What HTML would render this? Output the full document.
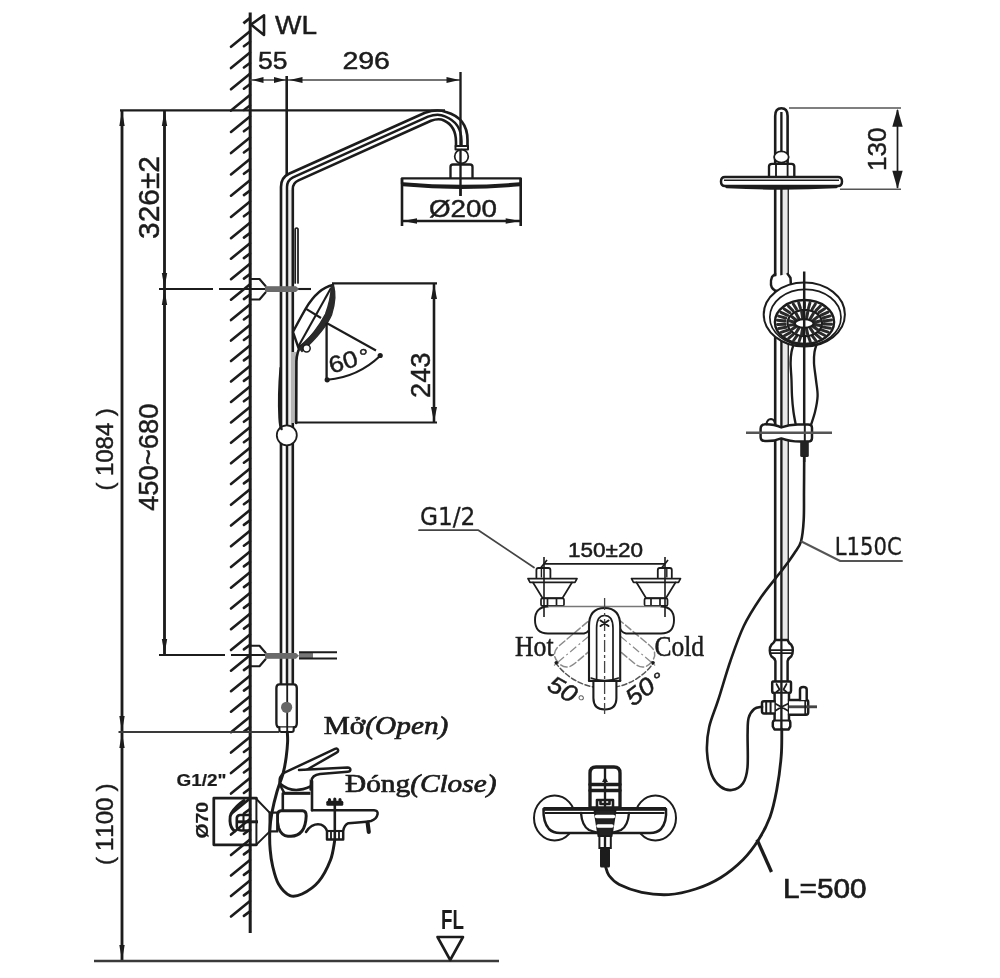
<!DOCTYPE html>
<html lang="vi"><head><meta charset="utf-8"><title>Shower column dimensions</title>
<style>
html,body{margin:0;padding:0;background:#fff;}
body{width:1000px;height:978px;overflow:hidden;}
svg{display:block;filter:blur(0.45px);}
</style></head><body>
<svg width="1000" height="978" viewBox="0 0 1000 978">
<rect width="1000" height="978" fill="#ffffff"/>
<g id="wall">
<line x1="250.2" y1="12.6" x2="250.2" y2="933.0" stroke="#1c1c1c" stroke-width="3.04" />
<line x1="231.0" y1="46.8" x2="250.0" y2="31.3" stroke="#1c1c1c" stroke-width="2.6" stroke-linecap="round"/>
<line x1="243.9" y1="46.2" x2="250.0" y2="41.7" stroke="#1c1c1c" stroke-width="2.6" stroke-linecap="round"/>
<line x1="231.0" y1="68.1" x2="250.0" y2="52.6" stroke="#1c1c1c" stroke-width="2.6" stroke-linecap="round"/>
<line x1="243.9" y1="67.5" x2="250.0" y2="63.0" stroke="#1c1c1c" stroke-width="2.6" stroke-linecap="round"/>
<line x1="231.0" y1="89.3" x2="250.0" y2="73.8" stroke="#1c1c1c" stroke-width="2.6" stroke-linecap="round"/>
<line x1="243.9" y1="88.7" x2="250.0" y2="84.2" stroke="#1c1c1c" stroke-width="2.6" stroke-linecap="round"/>
<line x1="231.0" y1="110.6" x2="250.0" y2="95.1" stroke="#1c1c1c" stroke-width="2.6" stroke-linecap="round"/>
<line x1="243.9" y1="110.0" x2="250.0" y2="105.5" stroke="#1c1c1c" stroke-width="2.6" stroke-linecap="round"/>
<line x1="231.0" y1="131.9" x2="250.0" y2="116.4" stroke="#1c1c1c" stroke-width="2.6" stroke-linecap="round"/>
<line x1="243.9" y1="131.3" x2="250.0" y2="126.8" stroke="#1c1c1c" stroke-width="2.6" stroke-linecap="round"/>
<line x1="231.0" y1="153.1" x2="250.0" y2="137.6" stroke="#1c1c1c" stroke-width="2.6" stroke-linecap="round"/>
<line x1="243.9" y1="152.5" x2="250.0" y2="148.0" stroke="#1c1c1c" stroke-width="2.6" stroke-linecap="round"/>
<line x1="231.0" y1="174.4" x2="250.0" y2="158.9" stroke="#1c1c1c" stroke-width="2.6" stroke-linecap="round"/>
<line x1="243.9" y1="173.8" x2="250.0" y2="169.3" stroke="#1c1c1c" stroke-width="2.6" stroke-linecap="round"/>
<line x1="231.0" y1="195.7" x2="250.0" y2="180.2" stroke="#1c1c1c" stroke-width="2.6" stroke-linecap="round"/>
<line x1="243.9" y1="195.1" x2="250.0" y2="190.6" stroke="#1c1c1c" stroke-width="2.6" stroke-linecap="round"/>
<line x1="231.0" y1="216.9" x2="250.0" y2="201.4" stroke="#1c1c1c" stroke-width="2.6" stroke-linecap="round"/>
<line x1="243.9" y1="216.3" x2="250.0" y2="211.8" stroke="#1c1c1c" stroke-width="2.6" stroke-linecap="round"/>
<line x1="231.0" y1="238.2" x2="250.0" y2="222.7" stroke="#1c1c1c" stroke-width="2.6" stroke-linecap="round"/>
<line x1="243.9" y1="237.6" x2="250.0" y2="233.1" stroke="#1c1c1c" stroke-width="2.6" stroke-linecap="round"/>
<line x1="231.0" y1="258.7" x2="250.0" y2="243.2" stroke="#1c1c1c" stroke-width="2.6" stroke-linecap="round"/>
<line x1="243.9" y1="258.1" x2="250.0" y2="253.6" stroke="#1c1c1c" stroke-width="2.6" stroke-linecap="round"/>
<line x1="231.0" y1="279.2" x2="250.0" y2="263.7" stroke="#1c1c1c" stroke-width="2.6" stroke-linecap="round"/>
<line x1="243.9" y1="278.6" x2="250.0" y2="274.1" stroke="#1c1c1c" stroke-width="2.6" stroke-linecap="round"/>
<line x1="231.0" y1="299.7" x2="250.0" y2="284.2" stroke="#1c1c1c" stroke-width="2.6" stroke-linecap="round"/>
<line x1="243.9" y1="299.1" x2="250.0" y2="294.6" stroke="#1c1c1c" stroke-width="2.6" stroke-linecap="round"/>
<line x1="231.0" y1="320.1" x2="250.0" y2="304.6" stroke="#1c1c1c" stroke-width="2.6" stroke-linecap="round"/>
<line x1="243.9" y1="319.5" x2="250.0" y2="315.0" stroke="#1c1c1c" stroke-width="2.6" stroke-linecap="round"/>
<line x1="231.0" y1="340.6" x2="250.0" y2="325.1" stroke="#1c1c1c" stroke-width="2.6" stroke-linecap="round"/>
<line x1="243.9" y1="340.0" x2="250.0" y2="335.5" stroke="#1c1c1c" stroke-width="2.6" stroke-linecap="round"/>
<line x1="231.0" y1="361.0" x2="250.0" y2="345.5" stroke="#1c1c1c" stroke-width="2.6" stroke-linecap="round"/>
<line x1="243.9" y1="360.4" x2="250.0" y2="355.9" stroke="#1c1c1c" stroke-width="2.6" stroke-linecap="round"/>
<line x1="231.0" y1="381.5" x2="250.0" y2="366.0" stroke="#1c1c1c" stroke-width="2.6" stroke-linecap="round"/>
<line x1="243.9" y1="380.9" x2="250.0" y2="376.4" stroke="#1c1c1c" stroke-width="2.6" stroke-linecap="round"/>
<line x1="231.0" y1="401.9" x2="250.0" y2="386.4" stroke="#1c1c1c" stroke-width="2.6" stroke-linecap="round"/>
<line x1="243.9" y1="401.3" x2="250.0" y2="396.8" stroke="#1c1c1c" stroke-width="2.6" stroke-linecap="round"/>
<line x1="231.0" y1="422.4" x2="250.0" y2="406.9" stroke="#1c1c1c" stroke-width="2.6" stroke-linecap="round"/>
<line x1="243.9" y1="421.8" x2="250.0" y2="417.3" stroke="#1c1c1c" stroke-width="2.6" stroke-linecap="round"/>
<line x1="231.0" y1="442.8" x2="250.0" y2="427.3" stroke="#1c1c1c" stroke-width="2.6" stroke-linecap="round"/>
<line x1="243.9" y1="442.2" x2="250.0" y2="437.7" stroke="#1c1c1c" stroke-width="2.6" stroke-linecap="round"/>
<line x1="231.0" y1="463.3" x2="250.0" y2="447.8" stroke="#1c1c1c" stroke-width="2.6" stroke-linecap="round"/>
<line x1="243.9" y1="462.7" x2="250.0" y2="458.2" stroke="#1c1c1c" stroke-width="2.6" stroke-linecap="round"/>
<line x1="231.0" y1="484.0" x2="250.0" y2="468.5" stroke="#1c1c1c" stroke-width="2.6" stroke-linecap="round"/>
<line x1="243.9" y1="483.4" x2="250.0" y2="478.9" stroke="#1c1c1c" stroke-width="2.6" stroke-linecap="round"/>
<line x1="231.0" y1="504.8" x2="250.0" y2="489.3" stroke="#1c1c1c" stroke-width="2.6" stroke-linecap="round"/>
<line x1="243.9" y1="504.2" x2="250.0" y2="499.7" stroke="#1c1c1c" stroke-width="2.6" stroke-linecap="round"/>
<line x1="231.0" y1="525.5" x2="250.0" y2="510.0" stroke="#1c1c1c" stroke-width="2.6" stroke-linecap="round"/>
<line x1="243.9" y1="524.9" x2="250.0" y2="520.4" stroke="#1c1c1c" stroke-width="2.6" stroke-linecap="round"/>
<line x1="231.0" y1="546.3" x2="250.0" y2="530.8" stroke="#1c1c1c" stroke-width="2.6" stroke-linecap="round"/>
<line x1="243.9" y1="545.7" x2="250.0" y2="541.2" stroke="#1c1c1c" stroke-width="2.6" stroke-linecap="round"/>
<line x1="231.0" y1="567.0" x2="250.0" y2="551.5" stroke="#1c1c1c" stroke-width="2.6" stroke-linecap="round"/>
<line x1="243.9" y1="566.4" x2="250.0" y2="561.9" stroke="#1c1c1c" stroke-width="2.6" stroke-linecap="round"/>
<line x1="231.0" y1="587.7" x2="250.0" y2="572.2" stroke="#1c1c1c" stroke-width="2.6" stroke-linecap="round"/>
<line x1="243.9" y1="587.1" x2="250.0" y2="582.6" stroke="#1c1c1c" stroke-width="2.6" stroke-linecap="round"/>
<line x1="231.0" y1="608.5" x2="250.0" y2="593.0" stroke="#1c1c1c" stroke-width="2.6" stroke-linecap="round"/>
<line x1="243.9" y1="607.9" x2="250.0" y2="603.4" stroke="#1c1c1c" stroke-width="2.6" stroke-linecap="round"/>
<line x1="231.0" y1="629.2" x2="250.0" y2="613.7" stroke="#1c1c1c" stroke-width="2.6" stroke-linecap="round"/>
<line x1="243.9" y1="628.6" x2="250.0" y2="624.1" stroke="#1c1c1c" stroke-width="2.6" stroke-linecap="round"/>
<line x1="231.0" y1="650.0" x2="250.0" y2="634.5" stroke="#1c1c1c" stroke-width="2.6" stroke-linecap="round"/>
<line x1="243.9" y1="649.4" x2="250.0" y2="644.9" stroke="#1c1c1c" stroke-width="2.6" stroke-linecap="round"/>
<line x1="231.0" y1="670.7" x2="250.0" y2="655.2" stroke="#1c1c1c" stroke-width="2.6" stroke-linecap="round"/>
<line x1="243.9" y1="670.1" x2="250.0" y2="665.6" stroke="#1c1c1c" stroke-width="2.6" stroke-linecap="round"/>
<line x1="231.0" y1="691.2" x2="250.0" y2="675.7" stroke="#1c1c1c" stroke-width="2.6" stroke-linecap="round"/>
<line x1="243.9" y1="690.6" x2="250.0" y2="686.1" stroke="#1c1c1c" stroke-width="2.6" stroke-linecap="round"/>
<line x1="231.0" y1="711.7" x2="250.0" y2="696.2" stroke="#1c1c1c" stroke-width="2.6" stroke-linecap="round"/>
<line x1="243.9" y1="711.1" x2="250.0" y2="706.6" stroke="#1c1c1c" stroke-width="2.6" stroke-linecap="round"/>
<line x1="231.0" y1="732.2" x2="250.0" y2="716.7" stroke="#1c1c1c" stroke-width="2.6" stroke-linecap="round"/>
<line x1="243.9" y1="731.6" x2="250.0" y2="727.1" stroke="#1c1c1c" stroke-width="2.6" stroke-linecap="round"/>
<line x1="231.0" y1="752.6" x2="250.0" y2="737.1" stroke="#1c1c1c" stroke-width="2.6" stroke-linecap="round"/>
<line x1="243.9" y1="752.0" x2="250.0" y2="747.5" stroke="#1c1c1c" stroke-width="2.6" stroke-linecap="round"/>
<line x1="231.0" y1="773.1" x2="250.0" y2="757.6" stroke="#1c1c1c" stroke-width="2.6" stroke-linecap="round"/>
<line x1="243.9" y1="772.5" x2="250.0" y2="768.0" stroke="#1c1c1c" stroke-width="2.6" stroke-linecap="round"/>
<line x1="231.0" y1="793.6" x2="250.0" y2="778.1" stroke="#1c1c1c" stroke-width="2.6" stroke-linecap="round"/>
<line x1="243.9" y1="793.0" x2="250.0" y2="788.5" stroke="#1c1c1c" stroke-width="2.6" stroke-linecap="round"/>
<line x1="231.0" y1="814.1" x2="250.0" y2="798.6" stroke="#1c1c1c" stroke-width="2.6" stroke-linecap="round"/>
<line x1="243.9" y1="813.5" x2="250.0" y2="809.0" stroke="#1c1c1c" stroke-width="2.6" stroke-linecap="round"/>
<line x1="231.0" y1="834.6" x2="250.0" y2="819.1" stroke="#1c1c1c" stroke-width="2.6" stroke-linecap="round"/>
<line x1="243.9" y1="834.0" x2="250.0" y2="829.5" stroke="#1c1c1c" stroke-width="2.6" stroke-linecap="round"/>
<line x1="231.0" y1="855.0" x2="250.0" y2="839.5" stroke="#1c1c1c" stroke-width="2.6" stroke-linecap="round"/>
<line x1="243.9" y1="854.4" x2="250.0" y2="849.9" stroke="#1c1c1c" stroke-width="2.6" stroke-linecap="round"/>
<line x1="231.0" y1="875.5" x2="250.0" y2="860.0" stroke="#1c1c1c" stroke-width="2.6" stroke-linecap="round"/>
<line x1="243.9" y1="874.9" x2="250.0" y2="870.4" stroke="#1c1c1c" stroke-width="2.6" stroke-linecap="round"/>
<line x1="231.0" y1="896.0" x2="250.0" y2="880.5" stroke="#1c1c1c" stroke-width="2.6" stroke-linecap="round"/>
<line x1="243.9" y1="895.4" x2="250.0" y2="890.9" stroke="#1c1c1c" stroke-width="2.6" stroke-linecap="round"/>
<line x1="231.0" y1="916.5" x2="250.0" y2="901.0" stroke="#1c1c1c" stroke-width="2.6" stroke-linecap="round"/>
<line x1="243.9" y1="915.9" x2="250.0" y2="911.4" stroke="#1c1c1c" stroke-width="2.6" stroke-linecap="round"/>
<line x1="243.4" y1="23.4" x2="250.0" y2="18.0" stroke="#1c1c1c" stroke-width="2.85" />
</g>
<g id="wl">
<path d="M251,24.5 L264,15.3 L264,35 Z" stroke="#1c1c1c" stroke-width="2.6" fill="none" stroke-linecap="round" stroke-linejoin="round" />
<text x="275.0" y="34.2" font-family='"Liberation Sans", Arial, Helvetica, sans-serif' font-size="26" font-weight="normal" font-style="normal" fill="#1c1c1c" stroke="#1c1c1c" stroke-width="0.45" style="font-kerning:none" textLength="42.0" lengthAdjust="spacingAndGlyphs" >WL</text>
</g>
<g id="dims-top">
<text x="258.0" y="69.3" font-family='"Liberation Sans", Arial, Helvetica, sans-serif' font-size="24" font-weight="normal" font-style="normal" fill="#1c1c1c" stroke="#1c1c1c" stroke-width="0.45" style="font-kerning:none" textLength="29.5" lengthAdjust="spacingAndGlyphs" >55</text>
<text x="342.4" y="69.3" font-family='"Liberation Sans", Arial, Helvetica, sans-serif' font-size="24" font-weight="normal" font-style="normal" fill="#1c1c1c" stroke="#1c1c1c" stroke-width="0.45" style="font-kerning:none" textLength="47.6" lengthAdjust="spacingAndGlyphs" >296</text>
<line x1="250.0" y1="80.0" x2="460.5" y2="80.0" stroke="#444" stroke-width="1.73" />
<polygon points="252.0,80.0 263.5,77.1 263.5,82.9" fill="#1c1c1c"/>
<polygon points="285.5,80.0 274.0,82.9 274.0,77.1" fill="#1c1c1c"/>
<polygon points="289.5,80.0 302.5,77.0 302.5,83.0" fill="#1c1c1c"/>
<polygon points="459.5,80.0 446.5,83.0 446.5,77.0" fill="#1c1c1c"/>
<line x1="286.7" y1="76.0" x2="286.7" y2="176.0" stroke="#1c1c1c" stroke-width="2.6" />
<line x1="460.5" y1="72.0" x2="460.5" y2="196.0" stroke="#1c1c1c" stroke-width="2.35" />
</g>
<g id="dims-left">
<line x1="120.0" y1="110.3" x2="445.0" y2="110.3" stroke="#1c1c1c" stroke-width="2.23" />
<line x1="122.0" y1="111.0" x2="122.0" y2="961.0" stroke="#1c1c1c" stroke-width="2.85" />
<line x1="164.5" y1="111.0" x2="164.5" y2="655.0" stroke="#1c1c1c" stroke-width="2.85" />
<polygon points="122.0,111.0 124.7,126.0 119.3,126.0" fill="#1c1c1c"/>
<polygon points="122.0,731.0 119.3,716.0 124.7,716.0" fill="#1c1c1c"/>
<polygon points="122.0,733.0 124.7,748.0 119.3,748.0" fill="#1c1c1c"/>
<polygon points="122.0,960.0 119.3,945.0 124.7,945.0" fill="#1c1c1c"/>
<polygon points="164.5,111.0 167.2,126.0 161.8,126.0" fill="#1c1c1c"/>
<polygon points="164.5,288.0 161.8,273.0 167.2,273.0" fill="#1c1c1c"/>
<polygon points="164.5,290.0 167.2,305.0 161.8,305.0" fill="#1c1c1c"/>
<polygon points="164.5,654.0 161.8,639.0 167.2,639.0" fill="#1c1c1c"/>
<line x1="159.0" y1="289.0" x2="213.0" y2="289.0" stroke="#1c1c1c" stroke-width="2.1" />
<line x1="219.0" y1="289.0" x2="266.0" y2="289.0" stroke="#1c1c1c" stroke-width="2.1" />
<line x1="296.0" y1="289.0" x2="311.0" y2="289.0" stroke="#1c1c1c" stroke-width="2.1" />
<line x1="159.0" y1="655.0" x2="225.0" y2="655.0" stroke="#1c1c1c" stroke-width="2.1" />
<line x1="231.0" y1="655.0" x2="266.0" y2="655.0" stroke="#1c1c1c" stroke-width="2.1" />
<line x1="118.5" y1="732.0" x2="279.0" y2="732.0" stroke="#3a3a3a" stroke-width="2.1" />
<line x1="94.0" y1="961.0" x2="499.0" y2="961.0" stroke="#3a3a3a" stroke-width="2.29" />
<text x="158.7" y="239.0" font-family='"Liberation Sans", Arial, Helvetica, sans-serif' font-size="29" font-weight="normal" font-style="normal" fill="#1c1c1c" stroke="#1c1c1c" stroke-width="0.45" style="font-kerning:none" textLength="83.0" lengthAdjust="spacingAndGlyphs" transform="rotate(-90 158.7 239.0)" >326±2</text>
<text x="157.7" y="511.0" font-family='"Liberation Sans", Arial, Helvetica, sans-serif' font-size="27" font-weight="normal" font-style="normal" fill="#1c1c1c" stroke="#1c1c1c" stroke-width="0.45" style="font-kerning:none" textLength="107.4" lengthAdjust="spacingAndGlyphs" transform="rotate(-90 157.7 511.0)" >450~680</text>
<text x="112.7" y="490.6" font-family='"Liberation Sans", Arial, Helvetica, sans-serif' font-size="24" font-weight="normal" font-style="normal" fill="#1c1c1c" stroke="#1c1c1c" stroke-width="0.45" style="font-kerning:none" transform="rotate(-90 112.7 490.6)" >(<tspan dx="6.5">1084</tspan><tspan dx="6.5">)</tspan></text>
<text x="112.7" y="865.0" font-family='"Liberation Sans", Arial, Helvetica, sans-serif' font-size="24" font-weight="normal" font-style="normal" fill="#1c1c1c" stroke="#1c1c1c" stroke-width="0.45" style="font-kerning:none" transform="rotate(-90 112.7 865.0)" >(<tspan dx="6">1100</tspan><tspan dx="6">)</tspan></text>
</g>
<g id="fl">
<path d="M437.5,937 L463,937 L450.2,960 Z" stroke="#1c1c1c" stroke-width="2.6" fill="none" stroke-linecap="round" stroke-linejoin="round" />
<text x="441" y="929" font-family='"Liberation Sans", Arial, sans-serif' font-size="28" font-weight="bold" fill="#1c1c1c" textLength="23" lengthAdjust="spacingAndGlyphs">FL</text>
</g>
<g id="riser">
<rect x="287" y="190" width="5.8" height="494" fill="#e9e9e9"/>
<path d="M281,684 L281,187 Q281,177.5 289,173.8 L425,112.8 Q437,108.6 446,112 Q467.5,118 467.5,140 L467.5,146" stroke="#1c1c1c" stroke-width="2.66" fill="none" stroke-linecap="round" stroke-linejoin="round" />
<path d="M287,684 L287,187 Q287,180.5 293,177.4 L428,116.6 Q438,113 445,116.4 Q461.5,123 461.5,141 L461.5,146" stroke="#1c1c1c" stroke-width="2.48" fill="none" stroke-linecap="round" stroke-linejoin="round" />
<path d="M292.8,684 L292.8,189 Q292.8,183 298.5,180.4 L431,120.8 Q439,117.8 444,120.5 Q456,126 456,142 L456,146" stroke="#1c1c1c" stroke-width="2.6" fill="none" stroke-linecap="round" stroke-linejoin="round" />
<path d="M455.5,146 H468 V149.5 H455.5 Z" stroke="#1c1c1c" stroke-width="1.98" fill="#fff" stroke-linecap="round" stroke-linejoin="round" />
<circle cx="461.5" cy="156.5" r="6.8" fill="#fff" stroke="#1c1c1c" stroke-width="1.7"/>
<path d="M450.5,178 V167 Q450.5,164.5 453,164.5 H470 Q472.5,164.5 472.5,167 V178" stroke="#1c1c1c" stroke-width="2.35" fill="#fff" stroke-linecap="round" stroke-linejoin="round" />
<path d="M402,178.3 H520.7 V184 Q461,190 402,184 Z" stroke="#1c1c1c" stroke-width="2.35" fill="#fff" stroke-linecap="round" stroke-linejoin="round" />
<path d="M403,184.3 Q461,189.5 520,184.3" stroke="#1c1c1c" stroke-width="4.1" fill="none" stroke-linecap="round" stroke-linejoin="round" />
<line x1="460.5" y1="150.0" x2="460.5" y2="196.0" stroke="#1c1c1c" stroke-width="2.35" />
<line x1="402.0" y1="178.0" x2="402.0" y2="226.0" stroke="#1c1c1c" stroke-width="2.6" />
<line x1="520.7" y1="178.0" x2="520.7" y2="226.0" stroke="#1c1c1c" stroke-width="2.6" />
<line x1="402.0" y1="221.0" x2="520.7" y2="221.0" stroke="#1c1c1c" stroke-width="2.35" />
<polygon points="403.0,221.0 417.0,218.2 417.0,223.8" fill="#1c1c1c"/>
<polygon points="519.7,221.0 505.7,223.8 505.7,218.2" fill="#1c1c1c"/>
<text x="429.0" y="216.8" font-family='"Liberation Sans", Arial, Helvetica, sans-serif' font-size="24" font-weight="normal" font-style="normal" fill="#1c1c1c" stroke="#1c1c1c" stroke-width="0.45" style="font-kerning:none" textLength="68.0" lengthAdjust="spacingAndGlyphs" >Ø200</text>
<circle cx="286.8" cy="435.3" r="10" fill="#fff" stroke="#1c1c1c" stroke-width="1.8"/>
<path d="M295.2,283 V229 Q296.6,227 298,229 V283" stroke="#1c1c1c" stroke-width="1.73" fill="none" stroke-linecap="round" stroke-linejoin="round" />
</g>
<g>
<path d="M250,279 H259.5 L265.5,286 M250,299.5 H259.5 L265.5,292.5" stroke="#1c1c1c" stroke-width="2.1" fill="none" stroke-linecap="round" stroke-linejoin="round" />
<rect x="265" y="286.2" width="31" height="5.8" fill="#6a6a6a"/>
<polygon points="296,286.2 299,289 296,292" fill="#6a6a6a"/>
</g>
<g>
<path d="M250,645.8 H259.5 L265.5,652.8 M250,666.3 H259.5 L265.5,659.3" stroke="#1c1c1c" stroke-width="2.1" fill="none" stroke-linecap="round" stroke-linejoin="round" />
<rect x="265" y="653.0" width="31" height="5.8" fill="#6a6a6a"/>
<polygon points="296,653.0 299,655.8 296,658.8" fill="#6a6a6a"/>
</g>
<rect x="299" y="652.6" width="14" height="5.6" fill="#777"/>
<line x1="299.0" y1="652.3" x2="337.0" y2="652.3" stroke="#1c1c1c" stroke-width="1.98" />
<line x1="299.0" y1="658.6" x2="337.0" y2="658.6" stroke="#1c1c1c" stroke-width="1.98" />
<g id="riser-bottom">
<path d="M279.5,684.4 H293.6 Q296.8,684.4 296.8,688 V723 Q296.8,727.4 293.6,727.4 H279.5 Q276.4,727.4 276.4,723 V688 Q276.4,684.4 279.5,684.4 Z" stroke="#1c1c1c" stroke-width="2.35" fill="#fff" stroke-linecap="round" stroke-linejoin="round" />
<path d="M279.4,727.4 V730 Q279.4,732 281.4,732 H291.7 Q293.7,732 293.7,730 V727.4" stroke="#1c1c1c" stroke-width="2.1" fill="#fff" stroke-linecap="round" stroke-linejoin="round" />
<line x1="287.2" y1="684.4" x2="287.2" y2="732.0" stroke="#1c1c1c" stroke-width="1.85" />
<circle cx="286.6" cy="707.3" r="5.6" fill="#666"/>
</g>
<g id="handshower-side">
<rect x="291" y="352" width="5.5" height="71" fill="#b5b5b5"/>
<path d="M299,349 Q296,356 296.4,366 L296.2,423" stroke="#1c1c1c" stroke-width="2.6" fill="none" stroke-linecap="round" stroke-linejoin="round" />
<path d="M280.7,368 Q278.4,395 279.6,418 Q280,426 281.5,429" stroke="#1c1c1c" stroke-width="2.6" fill="none" stroke-linecap="round" stroke-linejoin="round" />
<path d="M333,285 Q318,288 305.7,308.6 Q297,324 293,332 L298.5,348 Q325,326 331,304 Q334.5,291 333,285 Z" stroke="#1c1c1c" stroke-width="2.35" fill="#fff" stroke-linecap="round" stroke-linejoin="round" />
<line x1="331.0" y1="288.0" x2="298.6" y2="346.0" stroke="#1c1c1c" stroke-width="2.1" />
<path d="M333,285 Q337.5,296 331.5,315 Q324.5,331 302,351.5 L299.5,348.5 Q316,332 325.5,314 Q331,299 331.2,287 Z" stroke="#2a2a2a" stroke-width="1.35" fill="#2a2a2a" stroke-linecap="round" stroke-linejoin="round" />
<line x1="305.7" y1="308.6" x2="321.0" y2="318.0" stroke="#1c1c1c" stroke-width="2.1" />
<circle cx="306.6" cy="348.3" r="3.6" fill="#fff" stroke="#1c1c1c" stroke-width="1.5"/>
<line x1="332.0" y1="283.3" x2="437.0" y2="283.3" stroke="#1c1c1c" stroke-width="2.23" />
<line x1="295.0" y1="422.5" x2="437.0" y2="422.5" stroke="#1c1c1c" stroke-width="2.23" />
<line x1="434.0" y1="283.5" x2="434.0" y2="422.5" stroke="#1c1c1c" stroke-width="2.6" />
<polygon points="434.0,284.0 437.0,299.0 431.0,299.0" fill="#1c1c1c"/>
<polygon points="434.0,422.0 431.0,407.0 437.0,407.0" fill="#1c1c1c"/>
<text x="429.6" y="398.0" font-family='"Liberation Sans", Arial, Helvetica, sans-serif' font-size="27" font-weight="normal" font-style="normal" fill="#1c1c1c" stroke="#1c1c1c" stroke-width="0.45" style="font-kerning:none" textLength="45.5" lengthAdjust="spacingAndGlyphs" transform="rotate(-90 429.6 398.0)" >243</text>
<line x1="326.6" y1="323.0" x2="326.6" y2="379.0" stroke="#1c1c1c" stroke-width="2.35" />
<line x1="326.6" y1="323.0" x2="376.0" y2="350.5" stroke="#1c1c1c" stroke-width="2.1" />
<path d="M327.5,379.8 Q358,377 380,356" stroke="#1c1c1c" stroke-width="2.1" fill="none" stroke-linecap="round" stroke-linejoin="round" />
<circle cx="327.2" cy="379.8" r="2.6" fill="#1c1c1c"/><circle cx="380.2" cy="355.5" r="2.6" fill="#1c1c1c"/>
<text x="331.5" y="373.8" font-family='"Liberation Sans", Arial, Helvetica, sans-serif' font-size="23.5" font-weight="normal" font-style="normal" fill="#1c1c1c" stroke="#1c1c1c" stroke-width="0.45" style="font-kerning:none" textLength="41.5" lengthAdjust="spacingAndGlyphs" transform="rotate(-17 331.5 373.8)" >60<tspan dx="2.5" font-size="21">°</tspan></text>
</g>
<g id="faucet-side">
<path d="M256.4,798.2 H213.8 V844.8 H256.4" stroke="#1c1c1c" stroke-width="2.73" fill="none" stroke-linecap="round" stroke-linejoin="round" />
<text x="207.6" y="838.6" font-family='"Liberation Sans", Arial, Helvetica, sans-serif' font-size="17" font-weight="bold" font-style="normal" fill="#1c1c1c" stroke="#1c1c1c" stroke-width="0.2" style="font-kerning:none" textLength="36.8" lengthAdjust="spacingAndGlyphs" transform="rotate(-90 207.6 838.6)" >Ø70</text>
<text x="176.6" y="785.6" font-family='"Liberation Sans", Arial, Helvetica, sans-serif' font-size="16.8" font-weight="bold" font-style="normal" fill="#1c1c1c" stroke="#1c1c1c" stroke-width="0.2" style="font-kerning:none" textLength="50.0" lengthAdjust="spacingAndGlyphs" >G1/2"</text>
<line x1="256.4" y1="798.0" x2="256.4" y2="845.0" stroke="#1c1c1c" stroke-width="1.98" />
<path d="M256.4,799 L269.6,812.6 M256.4,844.6 L269.6,831.6" stroke="#1c1c1c" stroke-width="1.98" fill="none" stroke-linecap="round" stroke-linejoin="round" />
<path d="M244,800.5 Q236,806 231.5,813 Q229.6,816 230,821 Q230.4,828 234.5,831" stroke="#1c1c1c" stroke-width="2.98" fill="none" stroke-linecap="round" stroke-linejoin="round" />
<path d="M250,815 H240 Q236.5,815.5 236.8,819 V826.5 Q237,830 241,830.5 H250" stroke="#1c1c1c" stroke-width="2.6" fill="none" stroke-linecap="round" stroke-linejoin="round" />
<line x1="238.0" y1="821.8" x2="258.0" y2="821.8" stroke="#1c1c1c" stroke-width="2.98" />
<path d="M243.5,815.5 V830" stroke="#1c1c1c" stroke-width="2.1" fill="none" stroke-linecap="round" stroke-linejoin="round" />
<path d="M312,810.2 H374 Q378.2,810.6 377.6,814 Q376.8,819 371,821 Q362,822.6 348.4,823.2 Q344.2,825 343.2,831 V839.5 H327 V831 Q325.5,826.5 321,824.6 Q316.5,823.4 312,825.8 Q308.5,828 306,832" stroke="#1c1c1c" stroke-width="2.48" fill="#fff" stroke-linecap="round" stroke-linejoin="round" />
<path d="M281,810.8 H302.5 Q306.3,811 306.2,816 Q305.8,826 302,831 Q298,836.2 291,836.2 H288 Q281.5,835.8 278.6,828 Q277,822 277.5,815 Q277.8,811 281,810.8 Z" stroke="#1c1c1c" stroke-width="2.98" fill="#fff" stroke-linecap="round" stroke-linejoin="round" />
<rect x="269.6" y="812.6" width="7.6" height="18.8" fill="#fff" stroke="#1c1c1c" stroke-width="2.2"/>
<path d="M367.6,822.8 L368.8,832" stroke="#1c1c1c" stroke-width="4.1" fill="none" stroke-linecap="round" stroke-linejoin="round" />
<path d="M282.8,810.5 V793.5 M312,810.2 V781" stroke="#1c1c1c" stroke-width="2.6" fill="none" stroke-linecap="round" stroke-linejoin="round" />
<line x1="282.8" y1="793.3" x2="310.5" y2="793.3" stroke="#1c1c1c" stroke-width="3.1" />
<path d="M283.4,773.2 Q279,777 279.6,782 Q281,788 284,792.5 M310,771 Q311.5,776 310.6,789.5" stroke="#1c1c1c" stroke-width="2.48" fill="none" stroke-linecap="round" stroke-linejoin="round" />
<path d="M280.5,784 Q293,794.5 310.4,786.5" stroke="#1c1c1c" stroke-width="2.6" fill="none" stroke-linecap="round" stroke-linejoin="round" />
<path d="M283.4,773.2 L335,748.9 Q337.4,748 338,749.8 Q338.6,751.6 336.6,752.6 L305.5,770.5" stroke="#1c1c1c" stroke-width="2.48" fill="#fff" stroke-linecap="round" stroke-linejoin="round" />
<path d="M299,770 L347.5,767.6 Q350.6,767.8 350.4,769.8 Q350.2,771.6 347.5,771.8 L320,774 Q312,775 311.4,781" stroke="#1c1c1c" stroke-width="2.48" fill="#fff" stroke-linecap="round" stroke-linejoin="round" />
<line x1="334.8" y1="803.0" x2="334.8" y2="839.0" stroke="#1c1c1c" stroke-width="2.6" />
<rect x="326.3" y="800.8" width="17" height="5" rx="1.5" fill="#1c1c1c"/>
<path d="M329.5,799.5 V802 M334.8,799 V802 M340,799.5 V802" stroke="#1c1c1c" stroke-width="3.1" fill="none" stroke-linecap="round" stroke-linejoin="round" />
<line x1="327.0" y1="831.0" x2="343.2" y2="831.0" stroke="#1c1c1c" stroke-width="2.1" />
<path d="M331,831.5 V839 M339,831.5 V839" stroke="#1c1c1c" stroke-width="1.85" fill="none" stroke-linecap="round" stroke-linejoin="round" />
<path d="M287.3,732.0 C287.4,733.7 287.8,737.8 287.6,742.0 C287.4,746.2 286.9,751.8 286.2,757.0 C285.5,762.2 284.8,767.2 283.2,773.0 C281.6,778.8 278.8,785.4 276.9,792.0 C275.0,798.6 273.1,806.3 271.9,812.8 C270.7,819.3 270.1,824.8 269.8,831.0 C269.5,837.2 269.7,844.2 270.2,850.0 C270.7,855.8 271.2,860.3 272.6,866.0 C274.0,871.7 275.6,879.1 278.5,884.0 C281.4,888.9 286.1,893.9 290.0,895.6 C293.9,897.3 297.2,896.3 302.0,894.0 C306.8,891.7 313.9,887.3 318.6,881.6 C323.4,875.9 327.8,866.9 330.5,860.0 C333.2,853.1 334.1,843.3 334.8,840.0" stroke="#1c1c1c" stroke-width="2.98" fill="none" stroke-linecap="round" stroke-linejoin="round" />
</g>
<text x="323.8" y="734" font-family='"Liberation Serif", "Times New Roman", serif' font-size="25.5" fill="#1c1c1c" stroke="#1c1c1c" stroke-width="0.7" textLength="124.5" lengthAdjust="spacingAndGlyphs">Mở<tspan font-style="italic">(Open)</tspan></text>
<text x="345" y="792.3" font-family='"Liberation Serif", "Times New Roman", serif' font-size="25.5" fill="#1c1c1c" stroke="#1c1c1c" stroke-width="0.7" textLength="151.5" lengthAdjust="spacingAndGlyphs">Đóng<tspan font-style="italic">(Close)</tspan></text>
<g id="front-riser">
<path d="M775.2,641 V116 Q775.2,108.3 781.4,108.3 Q787.6,108.3 787.6,116 V641" stroke="#1c1c1c" stroke-width="2.6" fill="#fff" stroke-linecap="round" stroke-linejoin="round" />
<rect x="781.4" y="188" width="6.2" height="452" fill="#e9e9e9"/>
<line x1="781.4" y1="112.0" x2="781.4" y2="641.0" stroke="#1c1c1c" stroke-width="2.35" />
<ellipse cx="781.4" cy="157" rx="7.3" ry="5.6" fill="#fff" stroke="#1c1c1c" stroke-width="1.8"/>
<path d="M769,177 V166.5 Q769,163.8 772,163.8 H791.5 Q794.3,163.8 794.3,166.5 V177" stroke="#1c1c1c" stroke-width="2.35" fill="#fff" stroke-linecap="round" stroke-linejoin="round" />
<line x1="776.0" y1="164.0" x2="776.0" y2="177.0" stroke="#1c1c1c" stroke-width="1.85" />
<line x1="787.6" y1="164.0" x2="787.6" y2="177.0" stroke="#1c1c1c" stroke-width="1.85" />
<path d="M725,177 H838 Q842,177 842,181.5 Q842,186 838,186 H725 Q721,186 721,181.5 Q721,177 725,177 Z" stroke="#1c1c1c" stroke-width="2.48" fill="#fff" stroke-linecap="round" stroke-linejoin="round" />
<path d="M727,186.6 Q781,189.5 836,186.6" stroke="#1c1c1c" stroke-width="3.35" fill="none" stroke-linecap="round" stroke-linejoin="round" />
<line x1="724.0" y1="180.3" x2="839.0" y2="180.3" stroke="#1c1c1c" stroke-width="1.48" />
<line x1="789.0" y1="108.0" x2="901.0" y2="108.0" stroke="#555" stroke-width="1.6" />
<line x1="840.0" y1="189.3" x2="901.0" y2="189.3" stroke="#555" stroke-width="1.6" />
<line x1="897.5" y1="110.0" x2="897.5" y2="188.0" stroke="#1c1c1c" stroke-width="1.73" />
<polygon points="897.5,108.8 902.7,126.8 892.3,126.8" fill="#1c1c1c"/>
<polygon points="897.5,188.8 892.3,170.8 902.7,170.8" fill="#1c1c1c"/>
<text x="886.3" y="171.0" font-family='"Liberation Sans", Arial, Helvetica, sans-serif' font-size="25" font-weight="normal" font-style="normal" fill="#1c1c1c" stroke="#1c1c1c" stroke-width="0.45" style="font-kerning:none" textLength="43.5" lengthAdjust="spacingAndGlyphs" transform="rotate(-90 886.3 171.0)" >130</text>
<path d="M775.2,640 Q774,643 771.5,644.6 Q769.8,646.5 769.8,650.5 Q769.8,654.5 771.5,656.4 Q774.5,658 775.4,661 V682 H787.6 V661 Q788.5,658 791.2,656.4 Q792.8,654.5 792.8,650.5 Q792.8,646.5 791.2,644.6 Q788.6,643 787.6,640 Z" stroke="#1c1c1c" stroke-width="2.48" fill="#fff" stroke-linecap="round" stroke-linejoin="round" />
<line x1="781.4" y1="640.0" x2="781.4" y2="682.0" stroke="#1c1c1c" stroke-width="2.23" />
<path d="M771,650.2 H792 M771,653.2 H792" stroke="#1c1c1c" stroke-width="1.73" fill="none" stroke-linecap="round" stroke-linejoin="round" />
<path d="M773,681.5 H790 Q791,681.5 791,683 V691 Q791,692.6 789,693.4 V720 Q790.3,721 790.3,722.5 V726.5 L788.5,729.5 H774.5 L772.8,726.5 V722.5 Q772.8,721 774.6,720 V693.4 Q772.2,692.6 772.2,691 V683 Q772.2,681.5 773,681.5 Z" stroke="#1c1c1c" stroke-width="2.48" fill="#fff" stroke-linecap="round" stroke-linejoin="round" />
<path d="M772.5,692.8 H790.5 M774,720.6 H789.5" stroke="#1c1c1c" stroke-width="1.98" fill="none" stroke-linecap="round" stroke-linejoin="round" />
<line x1="781.4" y1="682.0" x2="781.4" y2="729.0" stroke="#1c1c1c" stroke-width="2.35" />
<path d="M776.5,684 L779.5,689.5 L776.5,692 M786.5,684 L783.5,689.5 L786.5,692" stroke="#1c1c1c" stroke-width="1.73" fill="none" stroke-linecap="round" stroke-linejoin="round" />
<path d="M775,703.5 L781.4,707 L775,711 M788.5,703.5 L781.4,707 L788.5,711" stroke="#1c1c1c" stroke-width="1.85" fill="none" stroke-linecap="round" stroke-linejoin="round" />
<path d="M774.4,701.2 H764 Q762,701.2 762,703 V711.5 Q762,713.4 764,713.4 H774.4" stroke="#1c1c1c" stroke-width="2.48" fill="#fff" stroke-linecap="round" stroke-linejoin="round" />
<path d="M766.2,701.5 V713.2 M770.6,701.5 V713.2" stroke="#1c1c1c" stroke-width="1.98" fill="none" stroke-linecap="round" stroke-linejoin="round" />
<path d="M789,700 H806 Q808.2,700 808.2,702 V712.6 Q808.2,714.7 806,714.7 H789" stroke="#1c1c1c" stroke-width="2.48" fill="#fff" stroke-linecap="round" stroke-linejoin="round" />
<path d="M800,700 V689.5 Q800,687 803.3,687 Q806.7,687 806.7,689.5 V700" stroke="#1c1c1c" stroke-width="2.48" fill="#fff" stroke-linecap="round" stroke-linejoin="round" />
<line x1="789.0" y1="706.8" x2="817.0" y2="706.8" stroke="#444" stroke-width="2.85" />
<line x1="805.2" y1="700.5" x2="805.2" y2="714.5" stroke="#1c1c1c" stroke-width="1.73" />
</g>
<g id="handshower-front">
<path d="M772,277 Q770.5,280 771,285 Q772,290 777,291 H790 Q791.5,284 790.5,278 Q789,275.5 787.6,274 M775.2,274 Q773,275.5 772,277" stroke="#1c1c1c" stroke-width="2.48" fill="#fff" stroke-linecap="round" stroke-linejoin="round" />
<path d="M794.0,343.0 C793.6,344.5 792.1,348.7 791.5,352.0 C790.9,355.3 790.6,358.3 790.6,363.0 C790.6,367.7 791.3,374.5 791.5,380.0 C791.7,385.5 791.7,390.7 792.0,396.0 C792.3,401.3 792.8,407.0 793.5,412.0 C794.2,417.0 795.6,423.7 796.0,426.0 L810.6,426 L810.6,426.0 C811.3,423.7 813.8,417.0 815.0,412.0 C816.2,407.0 817.4,401.3 817.6,396.0 C817.8,390.7 816.6,385.5 816.0,380.0 C815.4,374.5 814.2,367.7 814.0,363.0 C813.8,358.3 814.0,355.3 814.5,352.0 C815.0,348.7 816.6,344.5 817.0,343.0 Z" stroke="#1c1c1c" stroke-width="2.35" fill="#fff" stroke-linecap="round" stroke-linejoin="round" />
<ellipse cx="804.3" cy="314.5" rx="40.6" ry="32" fill="#fff" stroke="#1c1c1c" stroke-width="2"/>
<ellipse cx="805.4" cy="317.3" rx="35.6" ry="28" fill="none" stroke="#1c1c1c" stroke-width="1.7"/>
<ellipse cx="804.5" cy="322" rx="29.6" ry="22" fill="#fff" stroke="#1c1c1c" stroke-width="2.4"/>
<path d="M823.9,324.1 L831.6,324.2 M823.1,327.1 L830.4,328.3 M821.4,329.9 L828.1,332.1 M819.1,332.5 L824.8,335.5 M816.0,334.5 L820.6,338.3 M812.5,336.1 L815.7,340.4 M808.6,337.1 L810.3,341.7 M804.6,337.4 L804.6,342.2 M800.5,337.1 L799.0,341.8 M796.7,336.1 L793.6,340.5 M793.1,334.6 L788.6,338.4 M790.1,332.6 L784.4,335.7 M787.7,330.1 L781.0,332.3 M786.0,327.2 L778.7,328.5 M785.1,324.2 L777.5,324.4 M785.1,321.1 L777.4,320.2 M785.9,318.1 L778.6,316.1 M787.6,315.3 L780.9,312.3 M789.9,312.7 L784.2,308.9 M793.0,310.7 L788.4,306.1 M796.5,309.1 L793.3,304.0 M800.4,308.1 L798.7,302.7 M804.4,307.8 L804.4,302.2 M808.5,308.1 L810.0,302.6 M812.3,309.1 L815.4,303.9 M815.9,310.6 L820.4,306.0 M818.9,312.6 L824.6,308.7 M821.3,315.1 L828.0,312.1 M823.0,318.0 L830.3,315.9 M823.9,321.0 L831.5,320.0" stroke="#2a2a2a" stroke-width="2.98" fill="none" stroke-linecap="round" stroke-linejoin="round" stroke-linecap="butt"/>
<ellipse cx="804.8" cy="323" rx="17.2" ry="13.2" fill="#fff" stroke="#1c1c1c" stroke-width="2.2"/>
<path d="M814.9,324.6 L820.0,325.4 M813.3,326.8 L817.6,329.6 M810.4,328.4 L813.3,332.8 M806.6,329.3 L807.7,334.5 M802.5,329.3 L801.6,334.5 M798.7,328.4 L796.0,332.7 M795.8,326.7 L791.7,329.5 M794.3,324.5 L789.4,325.3 M794.3,322.2 L789.4,320.8 M795.9,320.0 L791.8,316.6 M798.8,318.4 L796.1,313.4 M802.6,317.5 L801.7,311.7 M806.7,317.5 L807.8,311.7 M810.5,318.4 L813.4,313.5 M813.4,320.1 L817.7,316.7 M814.9,322.3 L820.0,320.9" stroke="#2a2a2a" stroke-width="3.1" fill="none" stroke-linecap="round" stroke-linejoin="round" stroke-linecap="butt"/>
<ellipse cx="804.2" cy="323.5" rx="9.4" ry="4.4" fill="#fff" stroke="#1c1c1c" stroke-width="2.2"/>
<line x1="804.2" y1="271.5" x2="804.2" y2="462.0" stroke="#1c1c1c" stroke-width="2.48" />
<path d="M765,424.2 Q760.6,424.6 760.6,429 V437 Q760.6,441 765,441 Q774,441.4 781.3,438.4 Q790,441.6 800,441.6 H808 Q812,441.6 812,438 V428 Q812,424.6 808,424.6 H800 Q790,424.2 781.3,427.4 Q774,424 765,424.2 Z" stroke="#1c1c1c" stroke-width="2.48" fill="#fff" stroke-linecap="round" stroke-linejoin="round" />
<path d="M766.4,424.3 Q767,419.3 771,419 Q774.6,419.3 775.2,424" stroke="#1c1c1c" stroke-width="2.1" fill="none" stroke-linecap="round" stroke-linejoin="round" />
<path d="M804.8,425 V441.4" stroke="#1c1c1c" stroke-width="1.98" fill="none" stroke-linecap="round" stroke-linejoin="round" />
<line x1="746.0" y1="432.8" x2="832.0" y2="432.8" stroke="#555" stroke-width="2.48" />
<rect x="800.2" y="441" width="8.6" height="16" rx="1.5" fill="#222"/>
</g>
<g id="hoses">
<path d="M804.2,457.0 C804.2,462.5 804.1,479.5 804.0,490.0 C803.9,500.5 804.2,511.4 803.7,520.0 C803.2,528.6 802.5,536.0 801.0,541.5 C799.5,547.0 796.8,549.4 794.5,553.0 C792.2,556.6 789.9,559.7 787.5,563.0 C785.1,566.3 784.5,567.0 780.0,572.8 C775.5,578.6 766.5,589.1 760.5,598.0 C754.5,606.9 748.8,615.5 743.8,626.0 C738.8,636.5 734.8,648.4 730.5,660.7 C726.2,673.0 721.8,689.0 718.2,700.0 C714.7,711.0 711.1,718.4 709.2,727.0 C707.3,735.6 706.6,743.8 707.0,751.7 C707.4,759.6 709.2,768.4 711.5,774.2 C713.8,780.0 717.1,784.0 720.5,786.6 C723.9,789.2 728.0,790.6 731.7,790.0 C735.5,789.4 740.4,787.0 743.0,783.2 C745.6,779.5 746.7,775.8 747.5,767.5 C748.3,759.2 747.4,742.0 747.6,733.7 C747.8,725.5 747.5,722.1 748.6,718.0 C749.7,713.9 752.0,710.9 754.2,709.0 C756.4,707.1 760.7,707.2 762.0,706.8" stroke="#1c1c1c" stroke-width="2.6" fill="none" stroke-linecap="round" stroke-linejoin="round" />
<path d="M781.8,729.2 C781.7,733.7 782.1,746.1 781.2,756.2 C780.4,766.3 778.6,779.9 776.7,790.0 C774.8,800.1 773.0,808.8 770.0,817.0 C767.0,825.2 763.2,832.4 758.7,839.5 C754.2,846.6 749.4,853.3 743.0,859.7 C736.6,866.1 728.4,872.8 720.5,877.7 C712.6,882.6 704.3,886.2 695.7,889.0 C687.1,891.8 677.7,894.1 668.7,894.6 C659.7,895.1 650.0,894.0 641.7,892.3 C633.5,890.6 624.7,887.3 619.2,884.5 C613.8,881.7 611.2,878.4 609.0,875.5 C606.8,872.6 606.2,868.4 605.7,867.0" stroke="#1c1c1c" stroke-width="2.85" fill="none" stroke-linecap="round" stroke-linejoin="round" />
<path d="M801.5,541.5 L840.2,561 H902" stroke="#555" stroke-width="1.98" fill="none" stroke-linecap="round" stroke-linejoin="round" />
<text x="834.8" y="554.8" font-family='"DejaVu Sans", "Liberation Sans", sans-serif' font-size="24" font-weight="normal" font-style="normal" fill="#1c1c1c" stroke="#1c1c1c" stroke-width="0.3" style="font-kerning:none" textLength="67.0" lengthAdjust="spacingAndGlyphs" >L150C</text>
<line x1="757.0" y1="839.5" x2="771.5" y2="872.0" stroke="#1c1c1c" stroke-width="3.35" />
<text x="783.0" y="898.4" font-family='"Liberation Sans", Arial, Helvetica, sans-serif' font-size="28" font-weight="normal" font-style="normal" fill="#1c1c1c" stroke="#1c1c1c" stroke-width="0.7" style="font-kerning:none" textLength="83.5" lengthAdjust="spacingAndGlyphs" >L=500</text>
</g>
<g id="faucet-front">
<ellipse cx="554.6" cy="818" rx="20.6" ry="22.4" fill="#fff" stroke="#1c1c1c" stroke-width="2"/>
<ellipse cx="655.4" cy="818" rx="20.6" ry="22.4" fill="#fff" stroke="#1c1c1c" stroke-width="2"/>
<path d="M543.5,809 H666 Q667,822 661,829 Q657,833 650,833 H560 Q553,833 549,829 Q543,822 543.5,809 Z" stroke="#1c1c1c" stroke-width="2.48" fill="#fff" stroke-linecap="round" stroke-linejoin="round" />
<line x1="543.5" y1="808.8" x2="666.0" y2="808.8" stroke="#1c1c1c" stroke-width="3.85" />
<line x1="545.0" y1="813.0" x2="664.5" y2="813.0" stroke="#1c1c1c" stroke-width="1.98" />
<path d="M581,813 Q582,826 589,830 Q596,833 605,833 Q614,833 621,830 Q628,826 629,813" stroke="#1c1c1c" stroke-width="2.35" fill="none" stroke-linecap="round" stroke-linejoin="round" />
<path d="M596,767 H614 Q620,767 620,773 V808 H590 V773 Q590,767 596,767 Z" stroke="#1c1c1c" stroke-width="3.35" fill="#fff" stroke-linecap="round" stroke-linejoin="round" />
<path d="M590,784.5 H620 M590,790.5 H620" stroke="#1c1c1c" stroke-width="3.35" fill="none" stroke-linecap="round" stroke-linejoin="round" />
<line x1="605.0" y1="768.0" x2="605.0" y2="808.0" stroke="#1c1c1c" stroke-width="2.35" />
<polygon points="605,776.5 602,782 608,782" fill="#1c1c1c"/>
<path d="M597,808 V800 H613 V808 M600.5,800 V804 H609.5 V800" stroke="#1c1c1c" stroke-width="2.6" fill="none" stroke-linecap="round" stroke-linejoin="round" />
<path d="M594.5,810 H615.5 L611.5,836 H598.5 Z" stroke="#1c1c1c" stroke-width="1.98" fill="#222" stroke-linecap="round" stroke-linejoin="round" />
<path d="M596.5,816.5 H613.5 M598,826 H612" stroke="#fff" stroke-width="3.35" fill="none" stroke-linecap="round" stroke-linejoin="round" />
<rect x="599.4" y="836" width="11.4" height="12" fill="#fff" stroke="#1c1c1c" stroke-width="2"/>
<line x1="605.0" y1="836.0" x2="605.0" y2="848.0" stroke="#1c1c1c" stroke-width="2.35" />
<rect x="600" y="848" width="10" height="19.5" rx="1.5" fill="#1c1c1c"/>
</g>
<g id="valve-top">
<g transform="rotate(50 604.6 623)">
<path d="M592.8,625 V672 Q592.8,684 604.6,684 Q616.4,684 616.4,672 V625" stroke="#8a8a8a" stroke-width="1.5" fill="none" stroke-linecap="round" stroke-linejoin="round" stroke-dasharray="7 3"/>
<line x1="604.6" y1="628.0" x2="604.6" y2="690.0" stroke="#8a8a8a" stroke-width="1.2" stroke-dasharray="8 3 2 3"/>
</g>
<g transform="rotate(-50 604.6 623)">
<path d="M592.8,625 V672 Q592.8,684 604.6,684 Q616.4,684 616.4,672 V625" stroke="#8a8a8a" stroke-width="1.5" fill="none" stroke-linecap="round" stroke-linejoin="round" stroke-dasharray="7 3"/>
<line x1="604.6" y1="628.0" x2="604.6" y2="690.0" stroke="#8a8a8a" stroke-width="1.2" stroke-dasharray="8 3 2 3"/>
</g>
<path d="M555.5,662.5 A60,60 0 0 0 653.7,662.5" stroke="#555" stroke-width="1.5" fill="none" stroke-linecap="round" stroke-linejoin="round" stroke-dasharray="5 2.5"/>
<circle cx="556.3" cy="662.8" r="1.8" fill="#1c1c1c"/><circle cx="653" cy="662.8" r="1.8" fill="#1c1c1c"/>
<path d="M536.4,577.5 V570 Q536.4,568 538.4,568 H548.4 Q550.4,568 550.4,570 V577.5" stroke="#1c1c1c" stroke-width="1.8" fill="none" stroke-linecap="round" stroke-linejoin="round" />
<line x1="541.4" y1="568.5" x2="541.4" y2="577.5" stroke="#1c1c1c" stroke-width="1.4" />
<path d="M528,578.6 H577 L575,582.3 H530 Z" stroke="#1c1c1c" stroke-width="1.7" fill="#fff" stroke-linecap="round" stroke-linejoin="round" />
<path d="M533,582.5 L542.5,598 H562.5 L572,582.5" stroke="#1c1c1c" stroke-width="1.7" fill="none" stroke-linecap="round" stroke-linejoin="round" />
<rect x="541.0" y="598.3" width="23" height="7.6" rx="1.5" fill="#fff" stroke="#1c1c1c" stroke-width="1.7"/>
<path d="M547.5,599 V605.5 M556.5,599 V605.5" stroke="#1c1c1c" stroke-width="1.7" fill="none" stroke-linecap="round" stroke-linejoin="round" />
<path d="M657.8,577.5 V570 Q657.8,568 659.8,568 H669.8 Q671.8,568 671.8,570 V577.5" stroke="#1c1c1c" stroke-width="1.8" fill="none" stroke-linecap="round" stroke-linejoin="round" />
<line x1="666.8" y1="568.5" x2="666.8" y2="577.5" stroke="#1c1c1c" stroke-width="1.4" />
<path d="M631.5,578.6 H680.5 L678.5,582.3 H633.5 Z" stroke="#1c1c1c" stroke-width="1.7" fill="#fff" stroke-linecap="round" stroke-linejoin="round" />
<path d="M636.5,582.5 L646.0,598 H666.0 L675.5,582.5" stroke="#1c1c1c" stroke-width="1.7" fill="none" stroke-linecap="round" stroke-linejoin="round" />
<rect x="644.5" y="598.3" width="23" height="7.6" rx="1.5" fill="#fff" stroke="#1c1c1c" stroke-width="1.7"/>
<path d="M651.0,599 V605.5 M660.0,599 V605.5" stroke="#1c1c1c" stroke-width="1.7" fill="none" stroke-linecap="round" stroke-linejoin="round" />
<path d="M548,606.5 Q535,607 535,620 Q535,633.5 548,633.5 H584 Q590,632 590,626 M619.5,626 Q620,632 626,633.5 H661 Q674,633.5 674,620 Q674,607 661,606.5" stroke="#1c1c1c" stroke-width="1.9" fill="none" stroke-linecap="round" stroke-linejoin="round" />
<line x1="548.0" y1="606.5" x2="661.0" y2="606.5" stroke="#777" stroke-width="1.3" />
<line x1="544.0" y1="557.0" x2="544.0" y2="617.0" stroke="#1c1c1c" stroke-width="1.6" />
<line x1="665.0" y1="557.0" x2="665.0" y2="617.0" stroke="#1c1c1c" stroke-width="1.6" />
<line x1="544.0" y1="563.8" x2="665.0" y2="563.8" stroke="#1c1c1c" stroke-width="1.8" />
<line x1="541.0" y1="567.5" x2="547.0" y2="560.0" stroke="#1c1c1c" stroke-width="1.7" />
<line x1="662.0" y1="567.5" x2="668.0" y2="560.0" stroke="#1c1c1c" stroke-width="1.7" />
<text x="568.0" y="556.8" font-family='"Liberation Sans", Arial, Helvetica, sans-serif' font-size="20" font-weight="normal" font-style="normal" fill="#1c1c1c" stroke="#1c1c1c" stroke-width="0.5" style="font-kerning:none" textLength="75.0" lengthAdjust="spacingAndGlyphs" >150±20</text>
<path d="M589,680.8 V626 Q589,608 604.6,608 Q620.2,608 620.2,626 V680.8" stroke="#1c1c1c" stroke-width="2.1" fill="#fff" stroke-linecap="round" stroke-linejoin="round" />
<path d="M593.4,680.8 V698 Q593.4,709.5 604.8,709.5 Q616.4,709.5 616.4,698 V680.8" stroke="#1c1c1c" stroke-width="2.1" fill="#fff" stroke-linecap="round" stroke-linejoin="round" />
<path d="M589,680.8 H620.2" stroke="#1c1c1c" stroke-width="2.3" fill="none" stroke-linecap="round" stroke-linejoin="round" />
<path d="M596.6,680 V628 Q596.6,615.5 604.6,615.5 Q613,615.5 613,628 V680" stroke="#1c1c1c" stroke-width="1.7" fill="none" stroke-linecap="round" stroke-linejoin="round" />
<path d="M591,678 Q604.6,683.5 618.5,678" stroke="#1c1c1c" stroke-width="1.5" fill="none" stroke-linecap="round" stroke-linejoin="round" />
<line x1="604.6" y1="598.0" x2="604.6" y2="714.0" stroke="#444" stroke-width="1.3" stroke-dasharray="12 3 3 3"/>
<path d="M600.5,620.5 L608.5,626 M608.5,620.5 L600.5,626" stroke="#1c1c1c" stroke-width="2.1" fill="none" stroke-linecap="round" stroke-linejoin="round" />
<text x="420.0" y="525.2" font-family='"DejaVu Sans", "Liberation Sans", sans-serif' font-size="24" font-weight="normal" font-style="normal" fill="#1c1c1c" stroke="#1c1c1c" stroke-width="0.3" style="font-kerning:none" textLength="55.4" lengthAdjust="spacingAndGlyphs" >G1/2</text>
<path d="M419,530.2 H478.4 L534,567.5" stroke="#444" stroke-width="1.7" fill="none" stroke-linecap="round" stroke-linejoin="round" />
</g>
<text x="515.0" y="656.0" font-family='"Liberation Serif", "Times New Roman", serif' font-size="29" font-weight="normal" font-style="normal" fill="#1c1c1c" stroke="#1c1c1c" stroke-width="0.5" style="font-kerning:none" textLength="38.6" lengthAdjust="spacingAndGlyphs" >Hot</text>
<text x="654.4" y="656.0" font-family='"Liberation Serif", "Times New Roman", serif' font-size="29" font-weight="normal" font-style="normal" fill="#1c1c1c" stroke="#1c1c1c" stroke-width="0.5" style="font-kerning:none" textLength="49.6" lengthAdjust="spacingAndGlyphs" >Cold</text>
<text x="545.8" y="689.0" font-family='"Liberation Sans", Arial, Helvetica, sans-serif' font-size="24" font-weight="normal" font-style="italic" fill="#1c1c1c" stroke="#1c1c1c" stroke-width="0.5" style="font-kerning:none" textLength="39.0" lengthAdjust="spacingAndGlyphs" transform="rotate(30 545.8 689.0)" >50<tspan dx="1.5" font-size="18" font-style="normal" fill="#666" stroke="none">°</tspan></text>
<text x="633.0" y="707.0" font-family='"Liberation Sans", Arial, Helvetica, sans-serif' font-size="24" font-weight="normal" font-style="italic" fill="#1c1c1c" stroke="#1c1c1c" stroke-width="0.5" style="font-kerning:none" textLength="42.5" lengthAdjust="spacingAndGlyphs" transform="rotate(-37 633.0 707.0)" >50<tspan dx="3.5" font-size="19" font-style="normal">°</tspan></text>
</svg>
</body></html>
